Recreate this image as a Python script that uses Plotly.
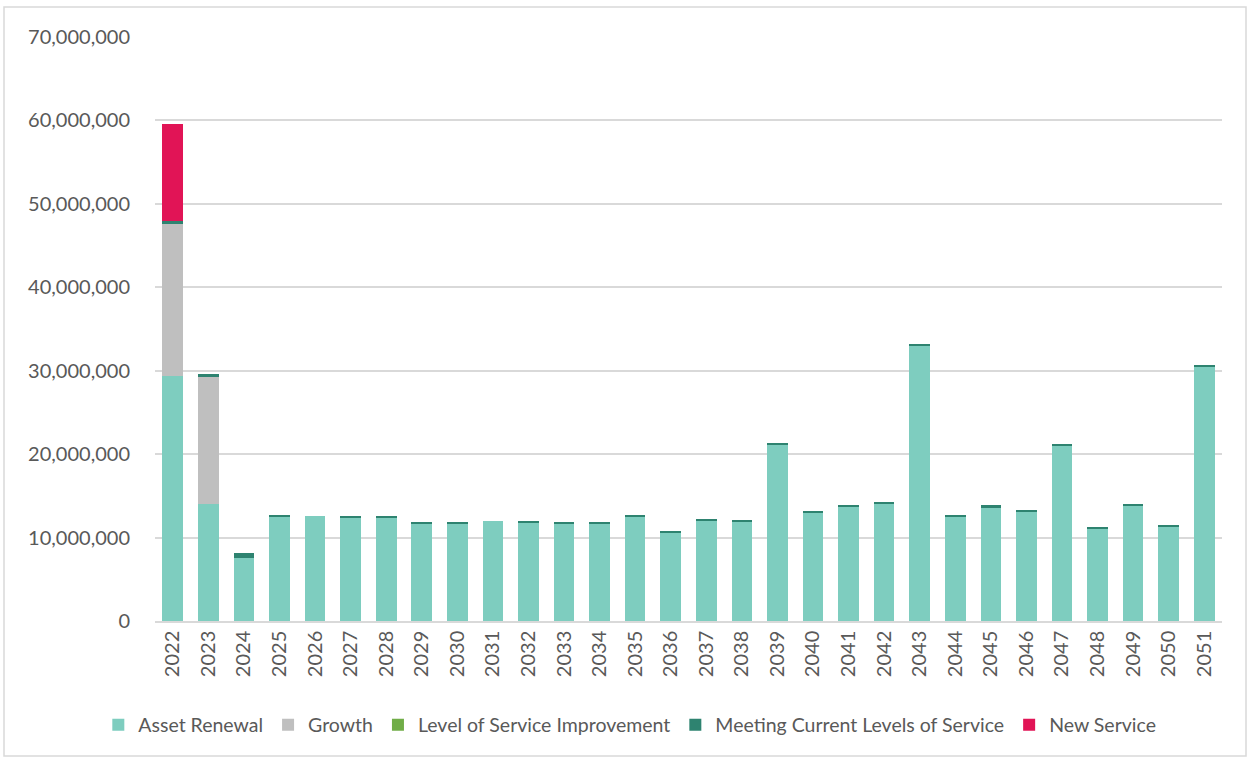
import plotly.graph_objects as go

years = [str(y) for y in range(2022, 2052)]

asset_renewal = [29.4e6, 14.0e6, 7.5e6, 12.5e6, 12.6e6, 12.35e6, 12.4e6, 11.65e6, 11.65e6, 11.95e6,
                 11.85e6, 11.65e6, 11.7e6, 12.55e6, 10.55e6, 12.0e6, 11.95e6, 21.2e6, 13.0e6, 13.7e6,
                 14.0e6, 33.05e6, 12.55e6, 13.5e6, 13.1e6, 21.0e6, 11.05e6, 13.9e6, 11.35e6, 30.5e6]
growth = [18.2e6, 15.2e6] + [0] * 28
los_improvement = [0] * 30
meeting_current = [0.4e6, 0.35e6, 0.6e6, 0.1e6, 0.0e6, 0.15e6, 0.1e6, 0.25e6, 0.25e6, 0.0e6,
                   0.1e6, 0.25e6, 0.2e6, 0.15e6, 0.15e6, 0.2e6, 0.05e6, 0.1e6, 0.1e6, 0.2e6,
                   0.3e6, 0.05e6, 0.15e6, 0.4e6, 0.1e6, 0.1e6, 0.25e6, 0.1e6, 0.05e6, 0.1e6]
new_service = [11.6e6] + [0] * 29

series = [
    ("Asset Renewal", asset_renewal, "#7ECDBF"),
    ("Growth", growth, "#BFBFBF"),
    ("Level of Service Improvement", los_improvement, "#70AD47"),
    ("Meeting Current Levels of Service", meeting_current, "#2E8370"),
    ("New Service", new_service, "#E11456"),
]

fig = go.Figure()
for name, vals, col in series:
    fig.add_trace(go.Bar(x=years, y=vals, name=name, marker=dict(color=col, line=dict(width=0))))

W, H = 1248, 758
L, R, T, B = 155, 26, 37, 137
pw, ph = W - L - R, H - T - B

fig.update_layout(
    width=W, height=H,
    barmode="stack", bargap=0.42,
    plot_bgcolor="white", paper_bgcolor="white",
    margin=dict(l=L, r=R, t=T, b=B, autoexpand=False),
    font=dict(family="Lato, Open Sans, sans-serif", size=20, color="#595959"),
    legend=dict(orientation="h", x=0.445, xanchor="center", y=-0.178, yanchor="middle",
                font=dict(size=19.5, color="#595959"), traceorder="normal",
                itemwidth=30, tracegroupgap=0),
    yaxis=dict(range=[0, 70e6], dtick=10e6, tickformat=",d", showgrid=True,
               gridcolor="#D9D9D9", gridwidth=1.5, zeroline=False, ticks="",
               ticklabelstandoff=24, showline=False,
               tickfont=dict(size=20, color="#595959")),
    xaxis=dict(tickangle=-90, showline=True, linecolor="#D9D9D9", linewidth=1.5,
               ticks="", tickfont=dict(size=20, color="#595959")),
    shapes=[dict(type="rect", xref="paper", yref="paper",
                 x0=(4 - L) / pw, x1=(1246 - L) / pw,
                 y0=(H - B - 756) / ph, y1=(H - B - 7) / ph,
                 line=dict(color="#D9D9D9", width=1.5), fillcolor="rgba(0,0,0,0)", layer="below")],
)

fig.write_html("out.html", config={"displayModeBar": False},
               post_script="document.body.style.margin='0';")
